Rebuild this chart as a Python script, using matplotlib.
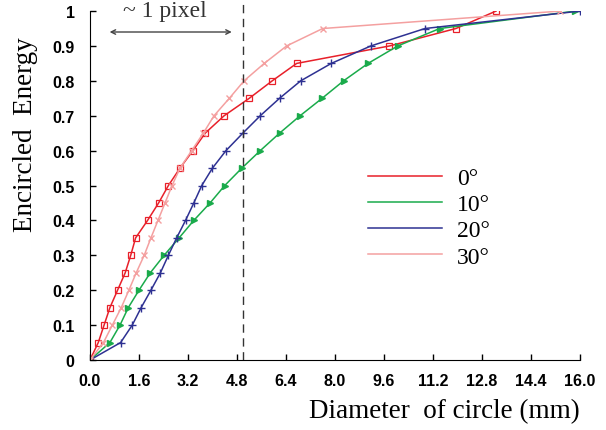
import matplotlib
matplotlib.use('Agg')
import matplotlib.pyplot as plt

# Encircled energy vs diameter for several field angles
energy = [0, 0.05, 0.10, 0.15, 0.20, 0.25, 0.30, 0.35, 0.40, 0.45, 0.50,
          0.55, 0.60, 0.65, 0.70, 0.75, 0.80, 0.85, 0.90, 0.95, 1.0]

d_0 = [0, 0.27, 0.46, 0.65, 0.90, 1.15, 1.33, 1.49, 1.88, 2.24, 2.56,
       2.94, 3.36, 3.76, 4.38, 5.20, 5.95, 6.75, 9.78, 11.95, 13.26]
d_10 = [0, 0.65, 0.98, 1.25, 1.60, 1.97, 2.42, 2.91, 3.39, 3.92, 4.40,
        4.96, 5.56, 6.19, 6.86, 7.58, 8.28, 9.08, 10.05, 11.42, 15.85]
d_20 = [0, 1.00, 1.38, 1.67, 1.99, 2.30, 2.56, 2.83, 3.12, 3.39, 3.65,
        4.00, 4.44, 4.99, 5.56, 6.19, 6.88, 7.88, 9.17, 10.94, 16.0]
d_30 = [0, 0.44, 0.73, 1.02, 1.27, 1.51, 1.77, 1.99, 2.22, 2.45, 2.68,
        2.94, 3.32, 3.70, 4.05, 4.55, 5.03, 5.69, 6.42, 7.60, 15.36]

labels = ['0°', '10°', '20°', '30°']
x_ticks = [0.0, 1.6, 3.2, 4.8, 6.4, 8.0, 9.6, 11.2, 12.8, 14.4, 16.0]
y_ticks = [0, 0.1, 0.2, 0.3, 0.4, 0.5, 0.6, 0.7, 0.8, 0.9, 1.0]
y_tick_labels = ['0', '0.1', '0.2', '0.3', '0.4', '0.5', '0.6', '0.7', '0.8', '0.9', '1']
pixel_line = 5.0

fig = plt.figure(figsize=(6.06, 4.31), dpi=100)
ax = fig.add_axes([0.1485, 0.1624, 0.8085, 0.8096])

ax.plot(d_0, energy, color='#e8202a', lw=1.1, marker='s', ms=4.5, mfc='none', mew=0.9, label=labels[0])
ax.plot(d_10, energy, color='#1aab4b', lw=1.1, marker='>', ms=4.5, label=labels[1])
ax.plot(d_20, energy, color='#2e3192', lw=1.1, marker='+', ms=5.5, mew=1.0, label=labels[2])
ax.plot(d_30, energy, color='#f4a0a0', lw=1.1, marker='x', ms=5, mew=1.0, label=labels[3])

ax.set_xlim(0, 16)
ax.set_ylim(0, 1)
tick_font = dict(fontfamily='Liberation Sans', fontweight='bold', fontsize=11.5)
ax.set_xticks(x_ticks)
ax.set_xticklabels([f'{t:.1f}' for t in x_ticks], **tick_font)
ax.set_yticks(y_ticks)
ax.set_yticklabels(y_tick_labels, **tick_font)
ax.tick_params(axis='x', direction='in', length=4, width=1, pad=9)
ax.tick_params(axis='y', direction='in', length=4, width=1, pad=11)
ax.spines['top'].set_visible(False)
ax.spines['right'].set_visible(False)

ax.set_xlabel('Diameter  of circle (mm)', fontfamily='Liberation Serif', fontsize=19.5)
ax.xaxis.set_label_coords(1.0, -0.11)
ax.xaxis.label.set_ha('right')
ax.set_ylabel('Encircled  Energy', fontfamily='Liberation Serif', fontsize=19.5)
ax.yaxis.set_label_coords(-0.106, 0.65)

# vertical dashed line and "~1 pixel" marker
ax.axvline(pixel_line, ymin=0, ymax=1.035, color='#333333', ls=(0, (6, 4)), lw=1, clip_on=False)
ax.annotate('', xy=(0.55, 0.94), xytext=(4.72, 0.94),
            arrowprops=dict(arrowstyle='<->', color='#444444', lw=1, mutation_scale=8))
ax.text(2.45, 1.032, '~ 1 pixel', ha='center', va='top', fontfamily='Liberation Serif',
        fontsize=17, color='#333333')

leg = ax.legend(loc='upper left', bbox_to_anchor=(0.525, 0.613), frameon=False,
                handlelength=3.1, labelspacing=0.2, handletextpad=0.65,
                prop={'family': 'Liberation Serif', 'size': 17})
for h in leg.get_lines():
    h.set_marker('')

fig.savefig('out.png', dpi=100)
